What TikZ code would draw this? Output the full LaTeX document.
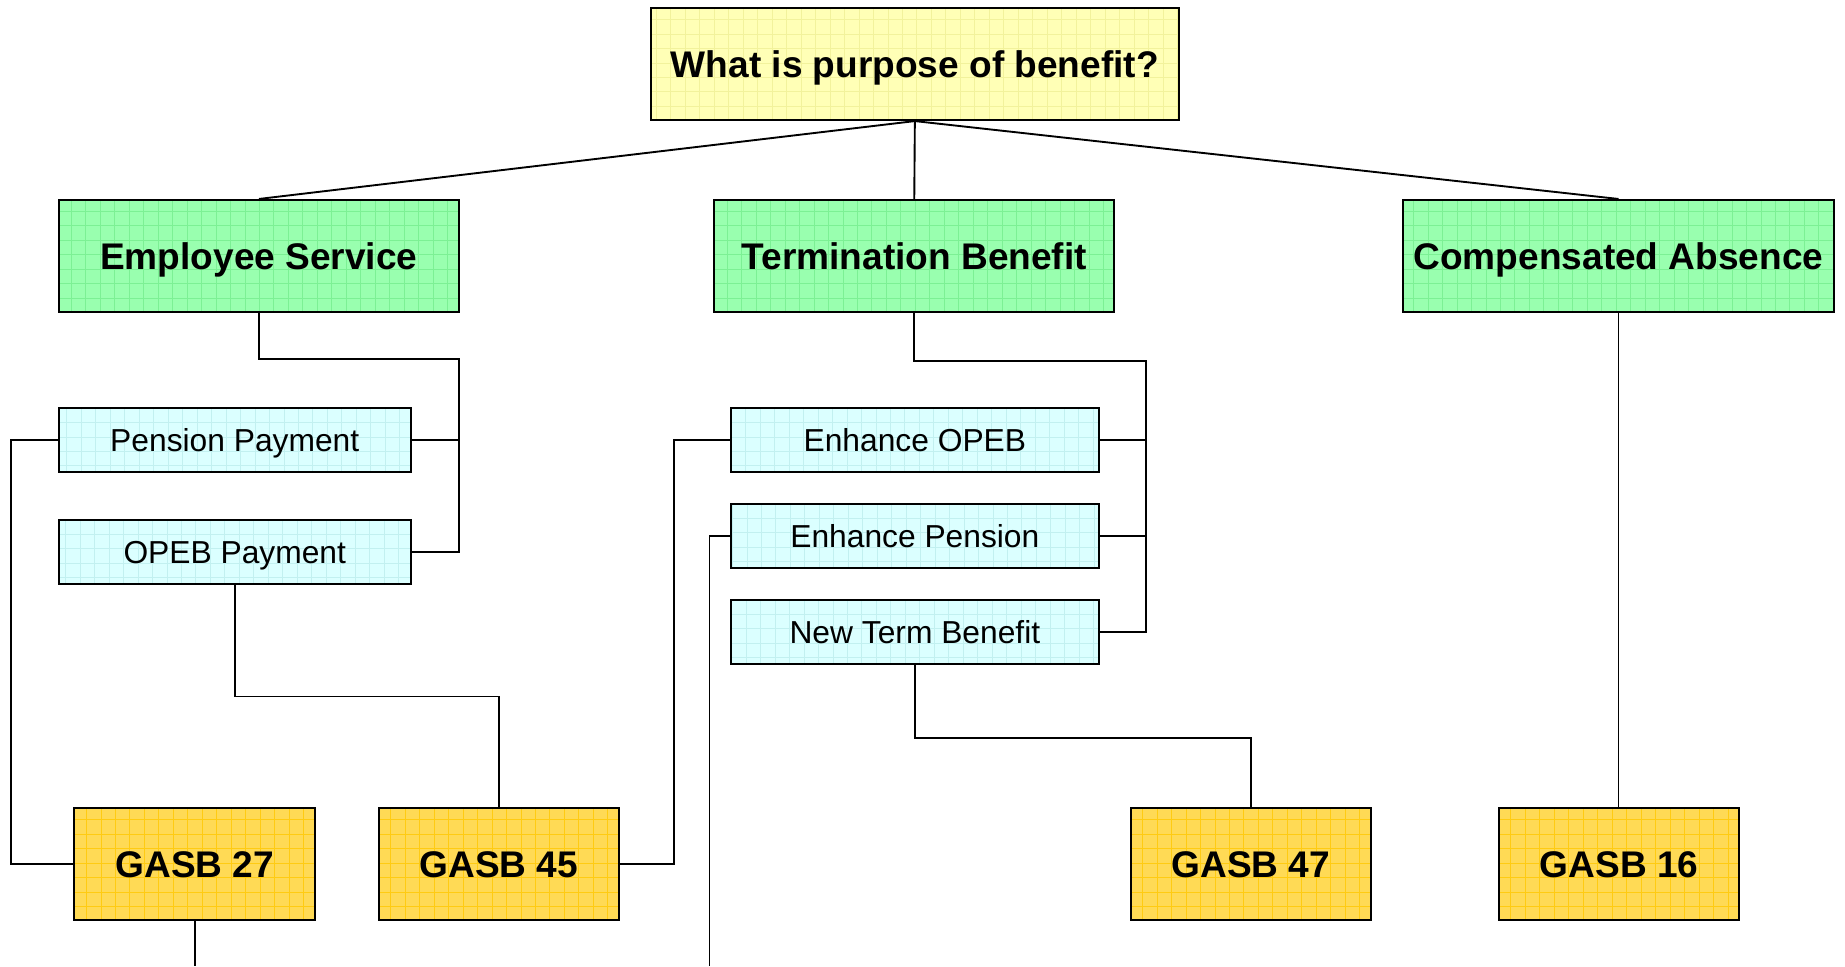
\documentclass[tikz,border=0pt]{standalone}
\usepackage{fontspec}
\setmainfont{Liberation Sans}
\begin{document}
\begin{tikzpicture}[x=1pt,y=-1pt]
\tikzset{
  gridbox/.style 2 args={draw=black, line width=1.8pt, fill=#1, inner sep=0pt,
    text depth=0pt,
    path picture={\draw[#2, line width=0.7pt, step=12.3pt]
      (path picture bounding box.south west) grid (path picture bounding box.north east);}},
  topbox/.style={gridbox={topfill}{topgrid}, minimum width=449pt, minimum height=95pt,
    text height=22.6pt, font=\fontsize{31.5}{36}\selectfont\bfseries},
  catbox/.style={gridbox={catfill}{catgrid}, minimum height=95pt,
    text height=22.6pt, font=\fontsize{31.5}{36}\selectfont\bfseries},
  subbox/.style={gridbox={subfill}{subgrid}, minimum height=54pt,
    text height=19.3pt, font=\fontsize{27}{32}\selectfont},
  gasbbox/.style={gridbox={gasbfill}{gasbgrid}, minimum width=204pt, minimum height=95pt,
    text height=22.6pt, font=\fontsize{31.5}{36}\selectfont\bfseries},
  conn/.style={draw=black, line width=1.6pt},
}
\definecolor{topfill}{HTML}{FFFFB6}
\definecolor{topgrid}{HTML}{F2F29C}
\definecolor{catfill}{HTML}{99FFAF}
\definecolor{catgrid}{HTML}{7CF094}
\definecolor{subfill}{HTML}{DBFFFF}
\definecolor{subgrid}{HTML}{C2F0F0}
\definecolor{gasbfill}{HTML}{FFDA55}
\definecolor{gasbgrid}{HTML}{FFCB12}

\useasboundingbox (0,0) rectangle (1568,821);
\fill[white] (0,0) rectangle (1568,821);

% nodes
\node[topbox] (top) at (777.5,54.5) {What is purpose of benefit?};
\node[catbox, minimum width=340pt] (es) at (220,217.5) {Employee Service};
\node[catbox, minimum width=340pt] (tb) at (777,217.5) {Termination Benefit};
\node[catbox, minimum width=367pt] (ca) at (1375.5,217.5) {Compensated Absence};

\node[subbox, minimum width=299pt] (pp) at (199.5,374) {Pension Payment};
\node[subbox, minimum width=299pt] (op) at (199.5,469) {OPEB Payment};
\node[subbox, minimum width=313pt] (eo) at (777.5,374) {Enhance OPEB};
\node[subbox, minimum width=313pt] (ep) at (777.5,455.5) {Enhance Pension};
\node[subbox, minimum width=313pt] (nt) at (777.5,537) {New Term Benefit};

\node[gasbbox, minimum width=205pt] (g27) at (165.5,734.5) {GASB 27};
\node[gasbbox] (g45) at (424,734.5) {GASB 45};
\node[gasbbox] (g47) at (1063,734.5) {GASB 47};
\node[gasbbox] (g16) at (1376,734.5) {GASB 16};

% coordinates
\coordinate (esbus) at (390,305);
\coordinate (tbbus) at (974,307);
\coordinate (ppl) at (9,374);
\coordinate (eol) at (573,374);
\coordinate (epend) at (603,821);
\coordinate (g27end) at (165.5,821);

% connectors
\draw[conn] (top.south) -- (es.north);
\draw[conn] (top.south) -- (tb.north);
\draw[conn] (top.south) -- (ca.north);

\draw[conn] (es.south) |- (esbus) -- (esbus |- op.east) -- (op.east);
\draw[conn] (pp.east) -- (pp.east -| esbus);

\draw[conn] (tb.south) |- (tbbus) -- (tbbus |- nt.east) -- (nt.east);
\draw[conn] (eo.east) -- (eo.east -| tbbus);
\draw[conn] (ep.east) -- (ep.east -| tbbus);

\draw[conn] (pp.west) -- (ppl) |- (g27.west);
\draw[conn] (op.south) -- +(0,95) -| (g45.north);
\draw[conn] (eo.west) -- (eol) |- (g45.east);
\draw[conn] (ep.west) -| (epend);
\draw[conn] (nt.south) -- +(0,62) -| (g47.north);
\draw[conn] (ca.south) -- (ca.south |- g16.north);
\draw[conn] (g27.south) -- (g27end);
\end{tikzpicture}
\end{document}
